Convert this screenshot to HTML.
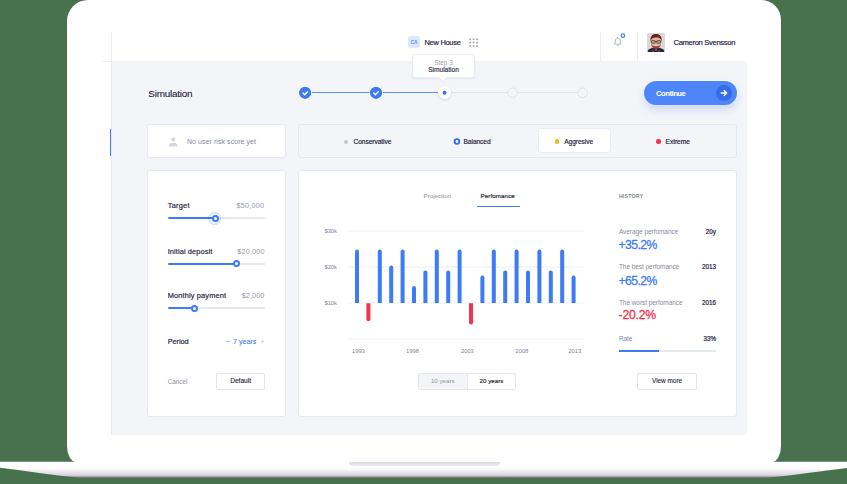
<!DOCTYPE html>
<html><head><meta charset="utf-8">
<style>
*{margin:0;padding:0;box-sizing:border-box}
html,body{width:847px;height:484px;overflow:hidden;background:#48724d}
body{position:relative;font-family:"Liberation Sans",sans-serif;color:#1f2440}
.a{position:absolute}
.t{position:absolute;white-space:nowrap;line-height:1}
#lid{left:67px;top:-0.5px;width:714px;height:462.3px;background:#fff;border-radius:21px 20px 9px 9px / 21px 20px 16px 16px}
#screen{left:111px;top:61px;width:636px;height:374px;background:#f4f5f9;border-left:1px solid #e8eaf2}
.vl{position:absolute;width:1px;background:#eceef4}
.card{position:absolute;background:#fff;border:1px solid #e7e9f1;border-radius:3px}
.dark{color:#1f2440;-webkit-text-stroke:0.18px #1f2440}
.gray{color:#858a9e}
.blue{color:#3d7bf7;-webkit-text-stroke:0.3px #3d7bf7}
</style></head>
<body>
<!-- laptop base -->
<svg class="a" style="left:0;top:455px" width="847" height="29" viewBox="0 455 847 29">
  <defs>
    <linearGradient id="bg" x1="0" y1="0" x2="0" y2="1">
      <stop offset="0" stop-color="#ffffff"/>
      <stop offset="0.42" stop-color="#fdfdfe"/>
      <stop offset="0.85" stop-color="#d8d4de"/>
      <stop offset="1" stop-color="#8c8390"/>
    </linearGradient>
  </defs>
  <path d="M0 461.8 H847 V468 C820 471 795 475 770 477.6 H77 C52 475 27 471 0 467.7 Z" fill="url(#bg)"/>
</svg>
<div id="lid" class="a"></div>
<!-- notch -->
<div class="a" style="left:349px;top:461.6px;width:151px;height:4.4px;background:linear-gradient(#dad9e0,#ebeaf0);border-radius:0 0 4px 4px"></div>

<!-- top bar -->
<div class="vl" style="left:111px;top:32px;height:403px"></div>
<div class="a" style="left:103px;top:60.5px;width:644px;height:1px;background:#eceef4"></div>
<div class="vl" style="left:600px;top:32px;height:29px"></div>
<div class="vl" style="left:637px;top:32px;height:29px"></div>

<div id="screen" class="a"></div>


<!-- topbar content -->
<div class="a" style="left:408px;top:36px;width:12px;height:12px;background:#dde7fd;border-radius:2px"></div>
<div class="t" style="left:408px;width:12px;text-align:center;top:40.6px;font-size:4.8px;font-weight:bold;color:#5b8ff8;letter-spacing:-0.1px">CA</div>
<div class="t dark" style="left:424.5px;top:38.9px;font-size:7.5px;letter-spacing:-0.3px">New House</div>
<svg class="a" style="left:468.5px;top:38px" width="10" height="10" viewBox="0 0 10 10">
  <g fill="#a3a8b8">
    <circle cx="1.2" cy="1.2" r="1"/><circle cx="4.6" cy="1.2" r="1"/><circle cx="8" cy="1.2" r="1"/>
    <circle cx="1.2" cy="4.6" r="1"/><circle cx="4.6" cy="4.6" r="1"/><circle cx="8" cy="4.6" r="1"/>
    <circle cx="1.2" cy="8" r="1"/><circle cx="4.6" cy="8" r="1"/><circle cx="8" cy="8" r="1"/>
  </g>
</svg>
<!-- bell -->
<svg class="a" style="left:612px;top:32px" width="16" height="16" viewBox="0 0 16 16">
  <path d="M2.3 12.1 C3.2 11.3 3.3 10.5 3.3 9 C3.3 7.3 4.3 6.3 5.75 6.3 C7.2 6.3 8.2 7.3 8.2 9 C8.2 10.5 8.3 11.3 9.2 12.1 Z" fill="none" stroke="#aeb2c1" stroke-width="0.95" stroke-linejoin="round"/>
  <path d="M4.9 13.4 Q5.75 14.5 6.6 13.4" fill="none" stroke="#aeb2c1" stroke-width="0.95" stroke-linecap="round"/>
  <path d="M5.75 5.2 V6.2" stroke="#aeb2c1" stroke-width="0.9" stroke-linecap="round"/>
  <circle cx="10.9" cy="3.7" r="1.75" fill="#fff" stroke="#3d7bf7" stroke-width="1.2"/>
</svg>
<!-- avatar -->
<div class="a" style="left:647px;top:33px;width:18px;height:19px;border-radius:1.5px;overflow:hidden;background:#dcd8d6">
  <svg width="18" height="19" viewBox="0 0 18 19">
    <path d="M0.5 19 C1 16 4 14.8 9 14.8 C14 14.8 17 16 17.5 19 Z" fill="#22223a"/>
    <path d="M4.5 15.4 L7.8 19 L5.8 19 Z M13.5 15.4 L10.2 19 L12.2 19 Z" fill="#b3343b"/>
    <path d="M8.3 16.2 L9 18.5 L9.8 16.2 Z" fill="#e0b050"/>
    <ellipse cx="9" cy="9" rx="5.3" ry="6.3" fill="#e3b4a2"/>
    <path d="M3.5 8.2 C3 2.6 6.2 0.8 9.2 0.9 C12.6 1 15.2 2.8 14.6 8.4 C14.2 6.2 13.2 4.6 9.4 4.5 C5.6 4.5 4.2 6 3.5 8.2Z" fill="#5e2a1f"/>
    <path d="M4.2 11 C4.5 14.8 7 15.6 9 15.6 C11 15.6 13.5 14.8 13.8 11 C12.8 13.2 11 13.3 9 13.3 C7 13.3 5.2 13.2 4.2 11Z" fill="#8a4a3a"/>
    <g fill="none" stroke="#2f2628" stroke-width="0.75">
      <rect x="4.4" y="7.7" width="3.8" height="2.4" rx="0.7"/>
      <rect x="9.8" y="7.7" width="3.8" height="2.4" rx="0.7"/>
      <path d="M8.2 8.4 H9.8 M3.6 8.2 H4.4 M13.6 8.2 H14.4"/>
    </g>
  </svg>
</div>
<div class="t dark" style="left:673.5px;top:38.9px;font-size:7.6px;letter-spacing:-0.32px">Cameron Svensson</div>

<!-- header -->
<div class="t dark" style="left:148.3px;top:89.4px;font-size:9.9px;letter-spacing:-0.2px;-webkit-text-stroke:0.12px #1f2440">Simulation</div>

<!-- stepper -->
<div class="a" style="left:305px;top:92.1px;width:140px;height:1.3px;background:#5a90f8"></div>
<div class="a" style="left:445px;top:92.2px;width:138px;height:1.2px;background:#e2e4ec"></div>
<svg class="a" style="left:296px;top:84px" width="300" height="18" viewBox="296 84 300 18">
  <g>
    <circle cx="305.1" cy="92.8" r="7" fill="#fff" opacity="0.9"/>
    <circle cx="305.1" cy="92.8" r="6.1" fill="#3b78f6"/>
    <path d="M303 93.1 L304.6 94.7 L307.6 91.7" fill="none" stroke="#fff" stroke-width="1.45" stroke-linecap="round" stroke-linejoin="round"/>
    <circle cx="376" cy="92.8" r="7" fill="#fff" opacity="0.9"/>
    <circle cx="376" cy="92.8" r="6.1" fill="#3b78f6"/>
    <path d="M373.7 93.1 L375.3 94.7 L378.3 91.7" fill="none" stroke="#fff" stroke-width="1.45" stroke-linecap="round" stroke-linejoin="round"/>
  </g>
  <circle cx="512.5" cy="92.8" r="4.8" fill="#f4f5f9" stroke="#dfe1e9" stroke-width="1"/>
  <circle cx="582.7" cy="92.8" r="4.8" fill="#f4f5f9" stroke="#dfe1e9" stroke-width="1"/>
</svg>
<div class="a" style="left:438px;top:86.2px;width:13px;height:13px;border-radius:50%;background:#fff;box-shadow:0 1px 3px rgba(60,70,120,0.18)"></div>
<svg class="a" style="left:438px;top:86px" width="14" height="14" viewBox="438 86 14 14"><circle cx="444.6" cy="92.7" r="1.95" fill="#2f6ff6"/></svg>

<!-- tooltip -->
<div class="a" style="left:412.3px;top:54.3px;width:63px;height:23.8px;background:#fff;border:1px solid #e9ebf2;border-radius:3px;box-shadow:0 1px 2px rgba(60,70,120,0.08)"></div>
<div class="a" style="left:440.3px;top:75.2px;width:5.6px;height:5.6px;background:#fff;border-right:1px solid #e9ebf2;border-bottom:1px solid #e9ebf2;transform:rotate(45deg)"></div>
<div class="t gray" style="left:412.5px;width:62px;text-align:center;top:60.2px;font-size:6.4px;color:#9a9fb0">Step 3</div>
<div class="t dark" style="left:412.5px;width:62px;text-align:center;top:66.8px;font-size:6.7px;letter-spacing:-0.05px;-webkit-text-stroke:0.12px #1f2440">Simulation</div>

<!-- continue button -->
<div class="a" style="left:643px;top:80px;width:95px;height:26px;border-radius:13px;background:#fff;opacity:0.8"></div>
<div class="a" style="left:644px;top:81px;width:93px;height:24px;border-radius:12px;background:#4e86fa;box-shadow:0 5px 9px rgba(70,120,240,0.22)"></div>
<div class="a" style="left:716.3px;top:84.8px;width:16px;height:16px;border-radius:50%;background:#386ce6"></div>
<svg class="a" style="left:719.3px;top:87.8px" width="10" height="10" viewBox="0 0 10 10">
  <path d="M2.2 5 H7.6 M5.2 2.5 L7.7 5 L5.2 7.5" fill="none" stroke="#fff" stroke-width="1.3" stroke-linecap="round" stroke-linejoin="round"/>
</svg>
<div class="t" style="left:656px;top:89.6px;font-size:7.6px;font-weight:bold;color:#fff;letter-spacing:-0.45px">Continue</div>


<!-- row 2 -->
<div class="a" style="left:109.5px;top:128.6px;width:1.7px;height:27.2px;background:#4582f7"></div>
<div class="card" style="left:147px;top:124px;width:138.5px;height:34.2px"></div>
<svg class="a" style="left:168px;top:136.5px" width="11" height="10" viewBox="0 0 11 10">
  <circle cx="5.3" cy="2.6" r="2.1" fill="#d3d6df"/>
  <path d="M1 9.6 C1 6.8 2.8 5.8 5.3 5.8 C7.8 5.8 9.6 6.8 9.6 9.6 Z" fill="#d3d6df"/>
</svg>
<div class="t gray" style="left:187px;top:138.4px;font-size:7px;letter-spacing:0.06px">No user risk score yet</div>

<div class="a" style="left:297.5px;top:124px;width:439px;height:34.2px;border:1px solid #e5e7ef;border-radius:3px;background:#f4f5f9"></div>
<div class="card" style="left:538px;top:128.3px;width:72.5px;height:25.2px;border-color:#e9ebf2"></div>
<div class="a" style="left:344.4px;top:139.5px;width:4.1px;height:4.1px;border-radius:50%;background:#c1c4d2"></div>
<div class="t dark" style="left:353.5px;top:138.6px;font-size:6.6px;letter-spacing:-0.05px">Conservative</div>
<svg class="a" style="left:450px;top:135px" width="14" height="14" viewBox="450 135 14 14"><circle cx="456.9" cy="141.5" r="2.35" fill="#fff" stroke="#2f6ff6" stroke-width="1.9"/></svg>
<div class="t dark" style="left:463.5px;top:138.6px;font-size:6.6px;letter-spacing:-0.05px">Balanced</div>
<div class="a" style="left:554.9px;top:139.4px;width:4.5px;height:4.5px;border-radius:50%;background:#fbb21f"></div>
<div class="t dark" style="left:564.2px;top:138.6px;font-size:6.6px;letter-spacing:-0.05px">Aggresive</div>
<div class="a" style="left:656.3px;top:139.4px;width:4.5px;height:4.5px;border-radius:50%;background:#f5334f"></div>
<div class="t dark" style="left:665.6px;top:138.6px;font-size:6.6px;letter-spacing:-0.05px">Extreme</div>

<!-- left card -->
<div class="card" style="left:147px;top:170.3px;width:138.5px;height:246.9px"></div>
<div class="t dark" style="left:167.7px;top:202.4px;font-size:7.4px;letter-spacing:0.25px">Target</div>
<div class="t gray" style="left:236.5px;top:202.4px;font-size:7.2px;letter-spacing:0.25px;color:#9297a9">$50,000</div>
<div class="a" style="left:167.8px;top:217.3px;width:97px;height:2px;background:#e6e8ef;border-radius:1px"></div>
<div class="a" style="left:167.8px;top:217.3px;width:47px;height:2px;background:#3d7bf7;border-radius:1px"></div>
<div class="a" style="left:208.3px;top:211.6px;width:13px;height:13px;border-radius:50%;background:rgba(61,123,247,0.07);border:1px solid rgba(61,123,247,0.25)"></div>
<div class="a" style="left:211.7px;top:214.6px;width:7px;height:7px;border-radius:50%;background:#fff;border:2px solid #3d7bf7"></div>

<div class="t dark" style="left:167.7px;top:247.7px;font-size:7.4px;letter-spacing:0.1px">Initial deposit</div>
<div class="t gray" style="left:237.3px;top:247.7px;font-size:7.2px;letter-spacing:0.2px;color:#9297a9">$20,000</div>
<div class="a" style="left:167.8px;top:262.5px;width:97px;height:2px;background:#e6e8ef;border-radius:1px"></div>
<div class="a" style="left:167.8px;top:262.5px;width:69px;height:2px;background:#3d7bf7;border-radius:1px"></div>
<div class="a" style="left:233.2px;top:260px;width:7px;height:7px;border-radius:50%;background:#fff;border:2px solid #3d7bf7"></div>

<div class="t dark" style="left:167.7px;top:291.8px;font-size:7.4px;letter-spacing:0.15px">Monthly payment</div>
<div class="t gray" style="left:241.7px;top:291.8px;font-size:7.2px;letter-spacing:0.12px;color:#9297a9">$2,000</div>
<div class="a" style="left:167.8px;top:307.2px;width:97px;height:2px;background:#e6e8ef;border-radius:1px"></div>
<div class="a" style="left:167.8px;top:307.2px;width:27px;height:2px;background:#3d7bf7;border-radius:1px"></div>
<div class="a" style="left:190.9px;top:304.7px;width:7px;height:7px;border-radius:50%;background:#fff;border:2px solid #3d7bf7"></div>

<div class="t dark" style="left:167.7px;top:338px;font-size:7.4px;letter-spacing:-0.1px">Period</div>
<div class="a" style="left:226.2px;top:341.1px;width:3.8px;height:1px;background:#b3c3e6"></div>
<div class="t blue" style="left:233px;top:338px;font-size:7.2px;letter-spacing:-0.05px;-webkit-text-stroke:0.05px #3d7bf7">7 years</div>
<div class="t" style="left:260.3px;top:338px;font-size:7.6px;color:#c3c7d3">+</div>

<div class="t gray" style="left:167.7px;top:379px;font-size:6.3px;color:#8a8fa2">Cancel</div>
<div class="a" style="left:216.3px;top:373px;width:48.7px;height:16.5px;background:#fff;border:1px solid #e3e5ee;border-radius:2px"></div>
<div class="t dark" style="left:216.3px;width:48.7px;text-align:center;top:377.8px;font-size:6.6px;-webkit-text-stroke:0.12px #1f2440">Default</div>

<!-- chart card -->
<div class="card" style="left:298px;top:170.3px;width:438.5px;height:246.9px"></div>
<div class="t gray" style="left:423.5px;top:192.7px;font-size:6.2px;color:#8a8fa2">Projection</div>
<div class="t dark" style="left:480.5px;top:192.7px;font-size:6.2px;letter-spacing:0.1px">Perfomance</div>
<div class="a" style="left:477px;top:205.5px;width:43px;height:1.2px;background:#3d7bf7"></div>

<svg class="a" style="left:300px;top:220px" width="300" height="140" viewBox="300 220 300 140">
<rect x="348.3" y="230.5" width="236.5" height="1" fill="#eff0f5"/>
<rect x="348.3" y="266.5" width="236.5" height="1" fill="#eff0f5"/>
<rect x="348.3" y="302.5" width="236.5" height="1" fill="#eff0f5"/>
<rect x="348.3" y="338.5" width="236.5" height="1" fill="#eff0f5"/>
<path d="M355.00 303 V251.50 A2 2 0 0 1 359.00 251.50 V303 Z" fill="#3d7bf7"/>
<path d="M366.40 303.3 V319.20 A2 2 0 0 0 370.40 319.20 V303.3 Z" fill="#f5334f"/>
<path d="M377.80 303 V251.50 A2 2 0 0 1 381.80 251.50 V303 Z" fill="#3d7bf7"/>
<path d="M389.20 303 V267.40 A2 2 0 0 1 393.20 267.40 V303 Z" fill="#3d7bf7"/>
<path d="M400.60 303 V251.50 A2 2 0 0 1 404.60 251.50 V303 Z" fill="#3d7bf7"/>
<path d="M412.00 303 V287.90 A2 2 0 0 1 416.00 287.90 V303 Z" fill="#3d7bf7"/>
<path d="M423.40 303 V272.60 A2 2 0 0 1 427.40 272.60 V303 Z" fill="#3d7bf7"/>
<path d="M434.80 303 V251.50 A2 2 0 0 1 438.80 251.50 V303 Z" fill="#3d7bf7"/>
<path d="M446.20 303 V272.60 A2 2 0 0 1 450.20 272.60 V303 Z" fill="#3d7bf7"/>
<path d="M457.60 303 V251.50 A2 2 0 0 1 461.60 251.50 V303 Z" fill="#3d7bf7"/>
<path d="M469.00 303.3 V322.60 A2 2 0 0 0 473.00 322.60 V303.3 Z" fill="#f5334f"/>
<path d="M480.40 303 V277.50 A2 2 0 0 1 484.40 277.50 V303 Z" fill="#3d7bf7"/>
<path d="M491.80 303 V251.50 A2 2 0 0 1 495.80 251.50 V303 Z" fill="#3d7bf7"/>
<path d="M503.20 303 V272.60 A2 2 0 0 1 507.20 272.60 V303 Z" fill="#3d7bf7"/>
<path d="M514.60 303 V251.50 A2 2 0 0 1 518.60 251.50 V303 Z" fill="#3d7bf7"/>
<path d="M526.00 303 V272.60 A2 2 0 0 1 530.00 272.60 V303 Z" fill="#3d7bf7"/>
<path d="M537.40 303 V251.50 A2 2 0 0 1 541.40 251.50 V303 Z" fill="#3d7bf7"/>
<path d="M548.80 303 V272.60 A2 2 0 0 1 552.80 272.60 V303 Z" fill="#3d7bf7"/>
<path d="M560.20 303 V251.50 A2 2 0 0 1 564.20 251.50 V303 Z" fill="#3d7bf7"/>
<path d="M571.60 303 V277.50 A2 2 0 0 1 575.60 277.50 V303 Z" fill="#3d7bf7"/>
</svg>
<div class="t gray" style="left:310px;width:27px;text-align:right;top:228.8px;font-size:5.8px;color:#80859a">$30k</div>
<div class="t gray" style="left:310px;width:27px;text-align:right;top:264.8px;font-size:5.8px;color:#80859a">$20k</div>
<div class="t gray" style="left:310px;width:27px;text-align:right;top:300.8px;font-size:5.8px;color:#80859a">$10k</div>
<div class="t gray" style="left:343.4px;width:30px;text-align:center;top:348.8px;font-size:5.8px;color:#80859a">1993</div>
<div class="t gray" style="left:397.5px;width:30px;text-align:center;top:348.8px;font-size:5.8px;color:#80859a">1998</div>
<div class="t gray" style="left:452.4px;width:30px;text-align:center;top:348.8px;font-size:5.8px;color:#80859a">2003</div>
<div class="t gray" style="left:506.9px;width:30px;text-align:center;top:348.8px;font-size:5.8px;color:#80859a">2008</div>
<div class="t gray" style="left:559.8px;width:30px;text-align:center;top:348.8px;font-size:5.8px;color:#80859a">2013</div>

<!-- toggle -->
<div class="a" style="left:418.3px;top:372.9px;width:97.3px;height:16.7px;border:1px solid #e6e8f0;border-radius:2px;background:#fff;overflow:hidden">
  <div class="a" style="left:0;top:0;width:49px;height:100%;background:#f4f5f9;border-right:1px solid #e6e8f0"></div>
</div>
<div class="t gray" style="left:418.3px;width:49px;text-align:center;top:378px;font-size:6.2px;color:#8d92a5">10 years</div>
<div class="t dark" style="left:467.3px;width:48.3px;text-align:center;top:378px;font-size:6.2px;-webkit-text-stroke:0.15px #1f2440">20 years</div>

<!-- history -->
<div class="t" style="left:618.9px;top:194px;font-size:5.1px;font-weight:bold;letter-spacing:0.3px;color:#7d8296">HISTORY</div>
<div class="t gray" style="left:618.9px;top:228.5px;font-size:6.5px;letter-spacing:-0.05px">Average perfomance</div>
<div class="t dark" style="left:690px;width:26px;text-align:right;top:228.5px;font-size:6.3px;-webkit-text-stroke:0.2px #1f2440">20y</div>
<div class="t blue" style="left:618.4px;top:239.3px;font-size:12.2px;letter-spacing:-0.55px">+35.2%</div>
<div class="t gray" style="left:618.9px;top:264px;font-size:6.5px;letter-spacing:-0.05px">The best perfomance</div>
<div class="t dark" style="left:690px;width:26px;text-align:right;top:264px;font-size:6.3px;-webkit-text-stroke:0.2px #1f2440">2013</div>
<div class="t blue" style="left:618.4px;top:275px;font-size:12.2px;letter-spacing:-0.55px">+65.2%</div>
<div class="t gray" style="left:618.9px;top:299.8px;font-size:6.5px;letter-spacing:-0.05px">The worst perfomance</div>
<div class="t dark" style="left:690px;width:26px;text-align:right;top:299.8px;font-size:6.3px;-webkit-text-stroke:0.2px #1f2440">2016</div>
<div class="t" style="left:618.6px;top:309.4px;font-size:12.2px;letter-spacing:-0.2px;color:#f5334f;-webkit-text-stroke:0.3px #f5334f">-20.2%</div>
<div class="t gray" style="left:618.9px;top:335.5px;font-size:6.5px;letter-spacing:-0.05px">Rate</div>
<div class="t dark" style="left:690px;width:26px;text-align:right;top:335.5px;font-size:6.3px;-webkit-text-stroke:0.2px #1f2440">33%</div>
<div class="a" style="left:619px;top:349.6px;width:96.7px;height:2px;background:#e6e8ef"></div>
<div class="a" style="left:619px;top:349.6px;width:40.4px;height:2px;background:#3d7bf7"></div>
<div class="a" style="left:637.3px;top:372.5px;width:59.6px;height:17px;border:1px solid #e3e5ee;border-radius:2px;background:#fff"></div>
<div class="t dark" style="left:637.6px;width:58.9px;text-align:center;top:378px;font-size:6.4px;-webkit-text-stroke:0.1px #1f2440">View more</div>

</body></html>
